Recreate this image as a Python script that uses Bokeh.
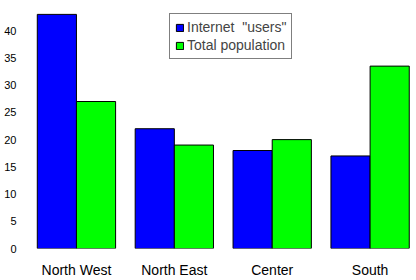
from bokeh.plotting import figure
from bokeh.models import ColumnDataSource, Range1d, FixedTicker, Legend, LegendItem
from bokeh.embed import file_html
from bokeh.resources import INLINE

regions = ["North West", "North East", "Center", "South"]
internet_users = [43, 22, 18, 17]
total_population = [27, 19, 20, 33.5]
series_names = ['Internet  "users"', "Total population"]
y_ticks = [0, 5, 10, 15, 20, 25, 30, 35, 40]

xs = list(range(len(regions)))
src = ColumnDataSource(dict(
    x=xs,
    x1=[x - 0.2 for x in xs],
    x2=[x + 0.2 for x in xs],
    users=internet_users,
    pop=total_population,
))

p = figure(width=416, height=280, output_backend="svg", toolbar_location=None,
           x_range=Range1d(-0.5, 3.474), y_range=Range1d(0, 45),
           min_border_left=27, min_border_right=0, min_border_top=3, min_border_bottom=31)
p.outline_line_color = None
p.xgrid.visible = False
p.ygrid.visible = False

r1 = p.vbar(x="x1", top="users", width=0.4, source=src, fill_color="#0000ff",
            line_color="black", line_width=1)
r2 = p.vbar(x="x2", top="pop", width=0.4, source=src, fill_color="#00ff00",
            line_color="black", line_width=1)

for ax in (p.xaxis[0], p.yaxis[0]):
    ax.axis_line_color = None
    ax.major_tick_line_color = None
    ax.minor_tick_line_color = None
    ax.major_tick_out = 0
    ax.major_tick_in = 0
    ax.minor_tick_out = 0
    ax.minor_tick_in = 0
    ax.major_label_text_font = "Liberation Sans"
    ax.major_label_text_color = "black"

p.yaxis.ticker = FixedTicker(ticks=y_ticks)
p.yaxis.major_label_text_font_size = "11px"
p.yaxis.major_label_standoff = 11
p.xaxis.ticker = FixedTicker(ticks=xs)
p.xaxis.major_label_overrides = {i: r for i, r in enumerate(regions)}
p.xaxis.major_label_text_font_size = "14px"
p.xaxis.major_label_standoff = 13

legend = Legend(items=[LegendItem(label=series_names[0], renderers=[r1]),
                       LegendItem(label=series_names[1], renderers=[r2])],
                location=(142, 189))
legend.border_line_color = "black"
legend.border_line_width = 1
legend.background_fill_alpha = 1
legend.label_text_font = "Liberation Sans"
legend.label_text_font_size = "14px"
legend.glyph_width = 9
legend.glyph_height = 9
legend.padding = 5
legend.spacing = 2
legend.label_standoff = 3
legend.margin = 0
legend.label_height = 15
p.add_layout(legend)

open("out.html", "w").write(file_html(p, INLINE))
